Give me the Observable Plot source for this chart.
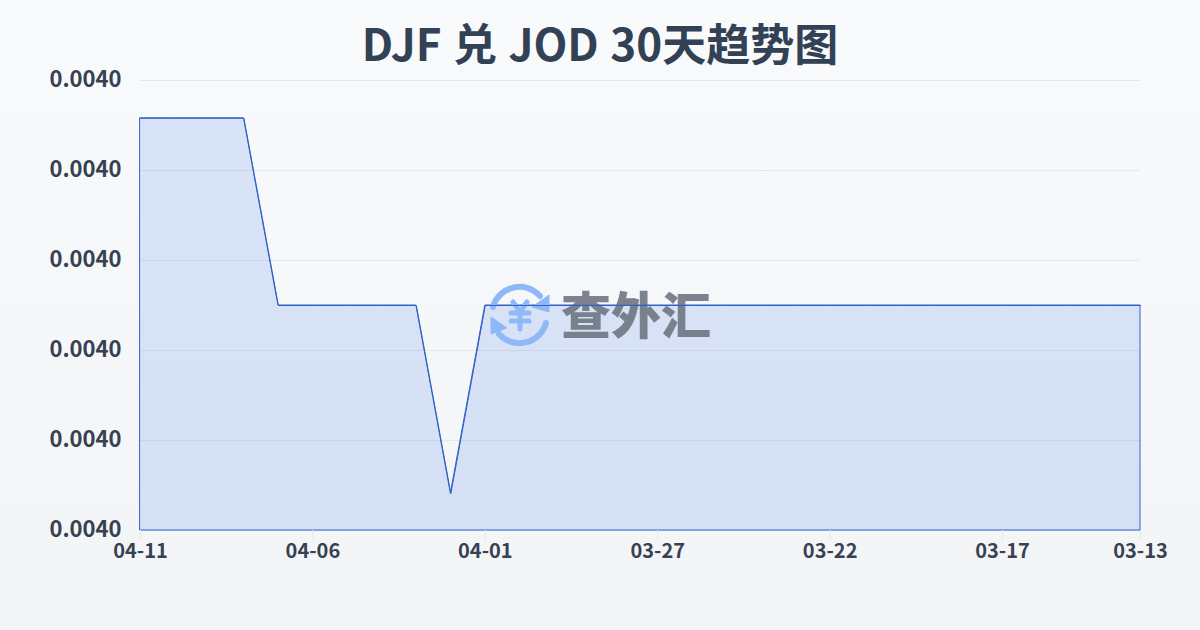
<!DOCTYPE html>
<html lang="zh">
<head>
<meta charset="utf-8">
<script src="https://cdn.jsdelivr.net/npm/d3@7"></script>
<script src="https://cdn.jsdelivr.net/npm/@observablehq/plot@0.6"></script>
<style>
html,body{margin:0;padding:0;width:1200px;height:630px;overflow:hidden;background:linear-gradient(180deg,#f8fafc 0%,#f3f4f6 100%);}
#title{height:60px;margin:0;padding-top:18px;box-sizing:border-box;text-align:center;font:700 44px/1.1 "Noto Sans CJK SC",sans-serif;word-spacing:1.5px;color:#334155;white-space:nowrap;}
#chart svg{display:block;background:transparent;}
</style>
</head>
<body>
<div id="title">DJF 兑 JOD 30天趋势图</div>
<div id="chart"></div>
<script>
const dates = ["04-11","04-10","04-09","04-08","04-07","04-06","04-05","04-04","04-03","04-02","04-01","03-31","03-30","03-29","03-28","03-27","03-26","03-25","03-24","03-23","03-22","03-21","03-20","03-19","03-18","03-17","03-16","03-15","03-14","03-13"];
const rates = [0.0040258,0.0040258,0.0040258,0.0040258,0.0040050,0.0040050,0.0040050,0.0040050,0.0040050,0.0039841,0.0040050,0.0040050,0.0040050,0.0040050,0.0040050,0.0040050,0.0040050,0.0040050,0.0040050,0.0040050,0.0040050,0.0040050,0.0040050,0.0040050,0.0040050,0.0040050,0.0040050,0.0040050,0.0040050,0.0040050];
const yTicks = [0.00398,0.00399,0.00400,0.00401,0.00402,0.00403];
const xTicks = ["04-11","04-06","04-01","03-27","03-22","03-17","03-13"];
const yBase = 0.00398;
const table = dates.map((d,i)=>({date:d,rate:rates[i]}));

function watermark(index, scales, values, dim, context){
  const ns="http://www.w3.org/2000/svg";
  const g=document.createElementNS(ns,"g");
  g.setAttribute("transform","translate(0,-60)");
  g.innerHTML=`
  <g fill="none" stroke="#8fb8f8" stroke-width="6" stroke-linecap="round">
    <path d="M493 307 A27.5 27.5 0 0 1 540 296"/>
    <path d="M546 323 A27.5 27.5 0 0 1 499 334"/>
  </g>
  <path d="M549 295 L549 312 L532 307 Z" fill="#8fb8f8" stroke="#8fb8f8" stroke-linejoin="round"/>
  <path d="M491 317 L491 334 L507 328 Z" fill="#8fb8f8" stroke="#8fb8f8" stroke-linejoin="round"/>
  <g fill="none" stroke="#8fb8f8" stroke-width="5" stroke-linecap="round">
    <path d="M513 302 L520 312 L527 302"/>
    <path d="M520 313 L520 329 M511 313 H529 M511 321 H529"/>
  </g>
  <text x="636" y="334" text-anchor="middle" font-family="'Noto Sans CJK SC'" font-weight="900" font-size="50" fill="#6b7280" fill-opacity="0.88">查外汇</text>`;
  return g;
}

const chart = Plot.plot({
  width:1200,
  height:570,
  marginTop:20,
  marginBottom:100,
  marginLeft:140,
  marginRight:60,
  style:{background:"transparent",fontFamily:"'Noto Sans CJK SC',sans-serif"},
  x:{type:"point",domain:dates,padding:0,round:false,label:null},
  y:{domain:[yTicks[0],yTicks[yTicks.length-1]],label:null},
  marks:[
    Plot.gridY(yTicks,{stroke:"#e5e7eb",strokeOpacity:1,strokeWidth:1}),
    Plot.areaY(table,{x:"date",y1:()=>yBase,y2:"rate",fill:"#2563eb",fillOpacity:0.14,stroke:"#2f62c8",strokeWidth:1}),
    watermark,
    Plot.lineY(table,{x:"date",y:"rate",stroke:"#2f62c8",strokeWidth:1}),
    Plot.axisY({ticks:yTicks,tickSize:0,tickPadding:19,tickFormat:d3.format(".4f"),fontSize:22,fontWeight:700,fill:"#374151",dy:-1,label:null,marginLeft:140}),
    Plot.axisX({ticks:xTicks,tickSize:10,tickPadding:3,stroke:"#e5e7eb",fontSize:20,fontWeight:700,fill:"#374151",label:null})
  ]
});
document.getElementById("chart").appendChild(chart);
</script>
</body>
</html>
